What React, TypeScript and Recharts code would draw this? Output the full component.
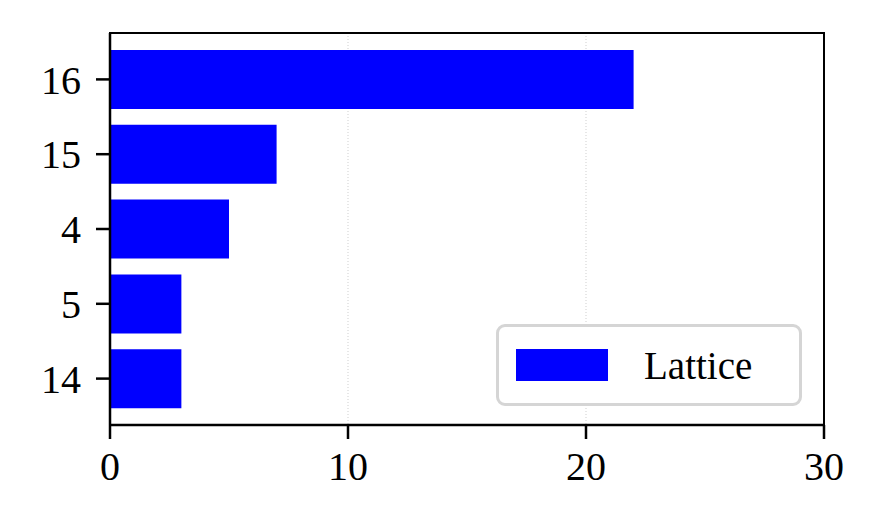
import { Bar, BarChart, CartesianGrid, XAxis, YAxis } from 'recharts';

const categories = ['16', '15', '4', '5', '14'];
const counts = [22, 7, 5, 3, 3];
const xTicks = [0, 10, 20, 30];
const seriesName = 'Lattice';

const rows = categories.map((name, i) => ({ name, value: counts[i] }));

const FONT = '"Liberation Serif", "DejaVu Serif", serif';

function LatticeLegend() {
  return (
    <div
      style={{
        position: 'absolute',
        left: 496,
        top: 324,
        width: 306,
        height: 82,
        boxSizing: 'border-box',
        border: '3px solid #d5d5d5',
        borderRadius: 9,
        background: '#fff',
        display: 'flex',
        alignItems: 'center',
        fontFamily: FONT,
        fontSize: 39,
      }}
    >
      <div style={{ width: 92, height: 32, background: '#0000ff', marginLeft: 17, marginRight: 36 }} />
      <span>{seriesName}</span>
    </div>
  );
}

export default function App() {
  return (
    <div style={{ position: 'absolute', left: 0, top: 0, width: 880, height: 532, background: '#fff' }}>
      <BarChart
        width={880}
        height={532}
        data={rows}
        layout='vertical'
        margin={{ top: 33, right: 56, left: 0, bottom: 47 }}
      >
        <CartesianGrid horizontal={false} stroke='#cfcfcf' strokeDasharray='1 2' strokeWidth={1} />
        <XAxis
          type='number'
          domain={[0, 30]}
          ticks={xTicks}
          height={60}
          tickSize={14}
          tickMargin={13}
          tick={{ fontSize: 40, fontFamily: FONT, fill: '#000' }}
          tickLine={{ stroke: '#000', strokeWidth: 2.5 }}
          axisLine={{ stroke: '#000', strokeWidth: 2.5 }}
        />
        <YAxis
          type='category'
          dataKey='name'
          width={110}
          padding={{ top: 9, bottom: 9 }}
          tickSize={14}
          tickMargin={15}
          tick={{ fontSize: 40, fontFamily: FONT, fill: '#000' }}
          tickLine={{ stroke: '#000', strokeWidth: 2.5 }}
          axisLine={{ stroke: '#000', strokeWidth: 2.5 }}
        />
        <Bar dataKey='value' name={seriesName} fill='#0000ff' barSize={59} isAnimationActive={false} />
      </BarChart>
      <div
        style={{
          position: 'absolute',
          left: 109,
          top: 32,
          width: 716,
          height: 394,
          boxSizing: 'border-box',
          border: '2.5px solid #000',
          pointerEvents: 'none',
        }}
      />
      <LatticeLegend />
    </div>
  );
}
